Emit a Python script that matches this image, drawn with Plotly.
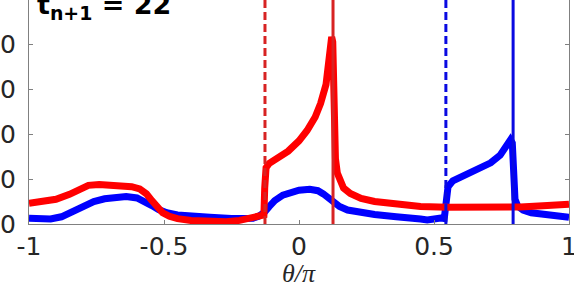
import plotly.graph_objects as go

# Data
theta_blue = [-1.0, -0.96, -0.92, -0.88, -0.84, -0.80, -0.76, -0.72, -0.68, -0.64,
              -0.60, -0.57, -0.545, -0.52, -0.49, -0.45, -0.40, -0.33, -0.25, -0.20,
              -0.17, -0.15, -0.13, -0.11, -0.09, -0.06, -0.03, 0.0, 0.04, 0.07,
              0.09, 0.11, 0.13, 0.15, 0.18, 0.22, 0.28, 0.36, 0.42, 0.45,
              0.475, 0.50, 0.525, 0.538, 0.541, 0.546, 0.552, 0.57, 0.62, 0.67,
              0.71, 0.745, 0.77, 0.783, 0.790, 0.795, 0.800, 0.81, 0.83, 0.86,
              0.92, 1.0]
val_blue = [1.3, 1.1, 1.1, 1.6, 2.7, 3.9, 5.0, 5.6, 6.0, 6.1,
            5.8, 5.0, 4.1, 3.2, 2.5, 2.0, 1.7, 1.5, 1.2, 1.1,
            1.3, 1.7, 2.5, 3.9, 5.2, 6.4, 7.1, 7.5, 7.7, 7.4,
            6.7, 5.7, 4.7, 3.9, 3.1, 2.6, 2.1, 1.6, 1.5, 1.1,
            0.9, 1.2, 1.3, 1.2, 4.0, 7.0, 8.3, 9.6, 10.9, 12.2,
            13.6, 15.3, 17.2, 18.7, 18.0, 10.0, 5.5, 4.0, 3.1, 2.5,
            2.0, 1.5]

theta_red = [-1.0, -0.95, -0.9, -0.85, -0.81, -0.78, -0.74, -0.68, -0.62, -0.59,
             -0.565, -0.545, -0.525, -0.505, -0.48, -0.45, -0.40, -0.33, -0.27, -0.22,
             -0.17, -0.14, -0.130, -0.127, -0.122, -0.11, -0.08, -0.04, 0.0, 0.03,
             0.06, 0.08, 0.10, 0.11, 0.117, 0.121, 0.125, 0.128, 0.131, 0.135,
             0.142, 0.152, 0.165, 0.19, 0.23, 0.28, 0.36, 0.45, 0.55, 0.70,
             0.82, 0.92, 1.0]
val_red = [4.6, 4.9, 5.5, 6.6, 7.9, 8.6, 8.8, 8.6, 8.3, 7.8,
           6.7, 5.2, 3.7, 2.5, 1.7, 1.2, 0.8, 0.5, 0.5, 0.8,
           1.3, 1.6, 2.0, 8.0, 12.5, 13.5, 14.6, 16.2, 18.5, 20.8,
           23.8, 26.8, 31.0, 35.0, 39.0, 41.6, 40.5, 32.0, 20.0, 14.5,
           11.3, 9.3, 8.0, 6.8, 5.7, 5.0, 4.3, 3.9, 3.7, 3.7,
           3.8, 4.1, 4.4]

red_dashed_x = -0.126
red_solid_x = 0.126
blue_dashed_x = 0.544
blue_solid_x = 0.793

x_ticks = [-1, -0.5, 0, 0.5, 1]
x_ticklabels = ["-1", "-0.5", "0", "0.5", "1"]
y_ticks = [0, 10, 20, 30, 40, 50]
y_ticklabels = ["0", "10", "20", "30", "40", "50"]
title_text = "<b>t<sub>n+1</sub> = 22</b>"
xlabel_text = "<i>θ/π</i>"

RED = "rgb(255,0,0)"
BLUE = "rgb(0,0,255)"
RED_V = "rgb(215,35,35)"
BLUE_V = "rgb(10,10,225)"

fig = go.Figure()
fig.add_trace(go.Scatter(x=theta_blue, y=val_blue, mode="lines",
                         line=dict(color=BLUE, width=7), showlegend=False))
fig.add_trace(go.Scatter(x=theta_red, y=val_red, mode="lines",
                         line=dict(color=RED, width=7), showlegend=False))
for xv, col, dash in [(red_dashed_x, RED_V, "8px,4px"), (red_solid_x, RED_V, "solid"),
                      (blue_dashed_x, BLUE_V, "8px,4px"), (blue_solid_x, BLUE_V, "solid")]:
    fig.add_trace(go.Scatter(x=[xv, xv], y=[0, 60], mode="lines",
                             line=dict(color=col, width=3, dash=dash), showlegend=False))

axis_col = "rgb(128,128,128)"
tick_font = dict(size=25, family="DejaVu Sans, sans-serif", color="rgb(38,38,38)")
fig.update_layout(
    width=574, height=287,
    margin=dict(l=29, r=5, t=0, b=63, autoexpand=False),
    paper_bgcolor="white", plot_bgcolor="white",
    font=dict(family="Liberation Sans, Arial, sans-serif", color="rgb(38,38,38)"),
    xaxis=dict(range=[-1, 1], tickvals=x_ticks, ticktext=x_ticklabels,
               ticks="inside", ticklen=4, tickcolor=axis_col, showgrid=False,
               zeroline=False, showline=True, linecolor=axis_col, linewidth=1,
               mirror=False, tickfont=tick_font, ticklabelstandoff=0,
               ticklabeloverflow="allow", automargin=False),
    yaxis=dict(range=[0, 49.8], tickvals=y_ticks, ticktext=y_ticklabels,
               ticks="inside", ticklen=4, tickcolor=axis_col, showgrid=False,
               zeroline=False, showline=True, linecolor=axis_col, linewidth=1,
               mirror="ticks", tickfont=tick_font, ticklabelstandoff=7,
               ticklabeloverflow="allow", automargin=False),
    annotations=[
        dict(text=title_text, xref="paper", yref="paper", x=0.012, y=1 - 26 / 224,
             xanchor="left", yanchor="bottom", showarrow=False,
             font=dict(size=27, color="black", family="DejaVu Sans, sans-serif")),
        dict(text=xlabel_text, xref="paper", yref="paper", x=0.5, y=-(257 - 224) / 224,
             xanchor="center", yanchor="top", showarrow=False,
             font=dict(size=26, color="rgb(38,38,38)", family="Liberation Serif, serif")),
    ],
)

fig.write_html("out.html", config={"displayModeBar": False},
               post_script="document.body.style.margin='0';document.body.style.overflow='hidden';")
